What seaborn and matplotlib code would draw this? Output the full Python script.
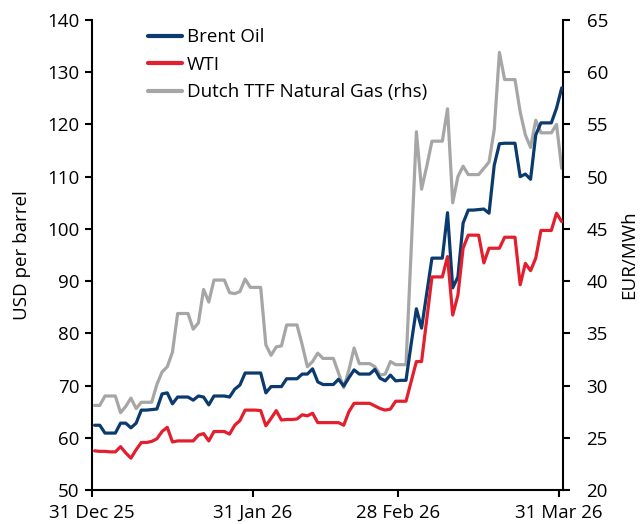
import matplotlib
matplotlib.use("Agg")
import matplotlib.pyplot as plt
import pandas as pd
import seaborn as sns

# ---------------- data (daily, weekends carried) ----------------
start_date = "2025-12-31"

brent = [62.4, 62.4, 60.9, 60.9, 60.9, 62.8, 62.8, 61.9, 62.8, 65.3,
         65.3, 65.4, 65.5, 68.4, 68.6, 66.5, 67.8, 67.8, 67.8, 67.2,
         68.0, 67.8, 66.3, 68.0, 68.0, 68.0, 67.8, 69.3, 70.1, 72.4,
         72.4, 72.4, 72.4, 68.6, 69.8, 69.8, 69.8, 71.3, 71.3, 71.3,
         72.2, 72.2, 73.2, 70.7, 70.2, 70.2, 70.2, 71.2, 69.9, 71.5,
         73.0, 72.2, 72.2, 72.2, 73.1, 71.4, 70.9, 72.0, 70.9, 71.0,
         71.0, 78.0, 84.7, 81.0, 87.7, 94.4, 94.4, 94.4, 103.1, 88.7,
         90.8, 101.1, 103.6, 103.6, 103.7, 103.8, 103.0, 112.2, 116.3, 116.4,
         116.4, 116.4, 110.0, 110.5, 109.5, 118.0, 120.3, 120.3, 120.3, 123.1,
         127.0]

wti = [57.5, 57.4, 57.4, 57.3, 57.3, 58.3, 57.1, 56.1, 57.7, 59.1,
       59.1, 59.3, 59.8, 61.2, 62.0, 59.2, 59.4, 59.4, 59.4, 59.4,
       60.5, 60.8, 59.4, 61.2, 61.2, 61.2, 60.7, 62.4, 63.3, 65.3,
       65.3, 65.3, 65.2, 62.3, 63.7, 65.2, 63.4, 63.5, 63.5, 63.6,
       64.4, 64.2, 64.7, 62.9, 62.9, 62.9, 62.9, 62.9, 62.4, 65.0,
       66.6, 66.6, 66.6, 66.6, 66.1, 65.6, 65.3, 65.5, 67.0, 67.0,
       67.0, 70.8, 74.6, 74.6, 82.7, 90.8, 90.8, 90.8, 94.7, 83.5,
       87.3, 96.3, 98.8, 98.8, 98.8, 93.5, 96.3, 96.3, 96.3, 98.4,
       98.4, 98.4, 89.3, 93.4, 92.0, 94.4, 99.7, 99.7, 99.7, 103.0,
       101.4]

ttf_gas = [28.1, 28.1, 29.0, 29.0, 29.0, 27.4, 28.0, 28.8, 27.8, 28.4,
           28.4, 28.4, 30.1, 31.3, 31.8, 33.2, 36.9, 36.9, 36.9, 35.4,
           36.0, 39.2, 38.0, 40.1, 40.1, 40.1, 38.9, 38.8, 39.0, 40.2,
           39.4, 39.4, 39.4, 33.9, 32.9, 33.7, 33.8, 35.8, 35.8, 35.8,
           33.9, 31.8, 32.3, 33.1, 32.6, 32.6, 32.6, 31.2, 29.8, 31.5,
           33.6, 32.1, 32.1, 32.1, 31.8, 31.0, 31.1, 32.3, 32.0, 32.0,
           32.0, 43.0, 54.3, 48.8, 51.0, 53.4, 53.4, 53.4, 56.5, 47.5,
           50.0, 51.0, 50.2, 50.2, 50.2, 50.8, 51.4, 54.5, 61.9, 59.3,
           59.3, 59.3, 56.2, 54.0, 52.8, 55.4, 54.2, 54.2, 54.2, 55.0,
           50.8]

series_names = ["Brent Oil", "WTI", "Dutch TTF Natural Gas (rhs)"]
tick_dates = ["2025-12-31", "2026-01-31", "2026-02-28", "2026-03-31"]
tick_labels = ["31 Dec 25", "31 Jan 26", "28 Feb 26", "31 Mar 26"]
left_ticks = [50, 60, 70, 80, 90, 100, 110, 120, 130, 140]
right_ticks = [20, 25, 30, 35, 40, 45, 50, 55, 60, 65]
left_label = "USD per barrel"
right_label = "EUR/MWh"

# ---------------- styling ----------------
sns.set_style("ticks")
plt.rcParams["font.family"] = ["Open Sans", "DejaVu Sans"]
plt.rcParams["font.weight"] = 500
fs = 13.5
plt.rcParams["font.size"] = fs
plt.rcParams["text.color"] = "black"
plt.rcParams["xtick.color"] = "black"
plt.rcParams["ytick.color"] = "black"
plt.rcParams["axes.labelcolor"] = "black"

colors = {"Brent Oil": "#0b3a6e", "WTI": "#e31e2d",
          "Dutch TTF Natural Gas (rhs)": "#a6a6a6"}

dates = pd.date_range(start_date, periods=len(brent), freq="D")
df = pd.DataFrame({"date": dates + pd.Timedelta(hours=12),
                   series_names[0]: brent,
                   series_names[1]: wti,
                   series_names[2]: ttf_gas})
oil = df.melt(id_vars="date", value_vars=series_names[:2],
              var_name="series", value_name="value")
gas = df.melt(id_vars="date", value_vars=series_names[2:],
              var_name="series", value_name="value")

fig = plt.figure(figsize=(6.41, 5.24), dpi=100)
ax = fig.add_axes([92 / 641, 34 / 524, (563 - 92) / 641, (490 - 20) / 524])
ax2 = ax.twinx()

lw = 2.3
sns.lineplot(data=gas, x="date", y="value", hue="series", palette=colors,
             ax=ax2, linewidth=lw, legend=False)
sns.lineplot(data=oil, x="date", y="value", hue="series", palette=colors,
             ax=ax, linewidth=lw, legend=False)
ax.set_zorder(ax2.get_zorder() + 1)
ax.patch.set_visible(False)

x0 = pd.Timestamp(tick_dates[0])
x1 = pd.Timestamp(tick_dates[-1]) + pd.Timedelta(hours=18)
ax.set_xlim(x0, x1)
ax.set_ylim(left_ticks[0], left_ticks[-1])
ax2.set_ylim(right_ticks[0], right_ticks[-1])
ax.set_yticks(left_ticks)
ax2.set_yticks(right_ticks)
ax.set_xticks(pd.to_datetime(tick_dates))
ax.set_xticklabels(tick_labels)

for a in (ax, ax2):
    for s in a.spines.values():
        s.set_visible(False)
        s.set_linewidth(1.5)
        s.set_color("black")
ax.spines["left"].set_visible(True)
ax.spines["bottom"].set_visible(True)
ax2.spines["right"].set_visible(True)

ax.tick_params(axis="both", direction="out", length=5, width=1.5,
               color="black", labelsize=fs)
ax.tick_params(axis="y", pad=4)
ax.tick_params(axis="x", pad=5)
ax2.tick_params(axis="y", direction="out", length=5, width=1.5,
                color="black", labelsize=fs, pad=12)

ax.set_xlabel("")
ax.set_ylabel(left_label, fontsize=fs, labelpad=12)
ax2.set_ylabel(right_label, fontsize=fs, labelpad=9)

handles = [plt.Line2D([], [], color=colors[n], linewidth=3) for n in series_names]
ax.legend(handles, series_names, loc="upper left",
          bbox_to_anchor=(0.119, 0.982), frameon=False, fontsize=fs,
          handlelength=1.8, handletextpad=0.27, labelspacing=0.5,
          borderaxespad=0, borderpad=0)

fig.savefig("out.png", dpi=100)
